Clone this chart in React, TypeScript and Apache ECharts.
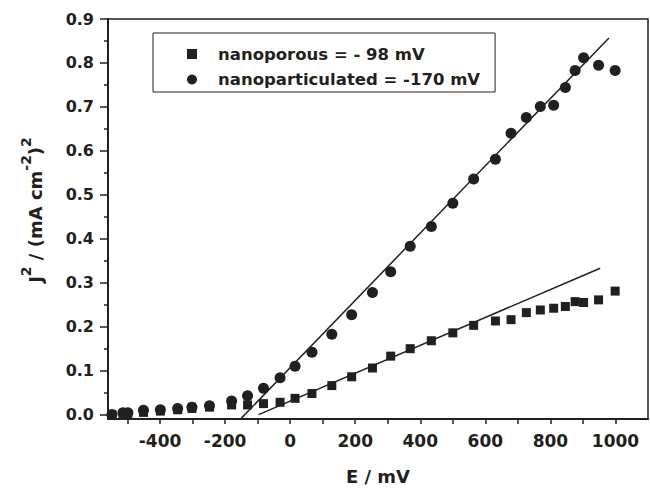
import React, { useEffect, useRef } from "react";
import * as echarts from "echarts";

const energyMv = [-548, -514, -499, -451, -399, -346, -302, -248, -180, -131, -82, -31, 15, 67, 128, 189, 253, 309, 369, 434, 500, 564, 631, 679, 726, 769, 810, 846, 876, 902, 948, 999];
const nanoporousJ2 = [0.0, 0.001, 0.001, 0.005, 0.008, 0.011, 0.014, 0.017, 0.022, 0.022, 0.025, 0.028, 0.037, 0.048, 0.066, 0.086, 0.106, 0.133, 0.15, 0.168, 0.186, 0.203, 0.213, 0.216, 0.232, 0.238, 0.242, 0.246, 0.257, 0.255, 0.261, 0.281];
const nanoparticulatedJ2 = [0.0, 0.004, 0.004, 0.01, 0.011, 0.014, 0.017, 0.02, 0.031, 0.043, 0.06, 0.084, 0.11, 0.142, 0.183, 0.227, 0.278, 0.325, 0.383, 0.428, 0.481, 0.536, 0.581, 0.64, 0.676, 0.701, 0.704, 0.744, 0.783, 0.812, 0.795, 0.783];

const porousFitE = [-97, 953];
const porousFitJ = [0.0, 0.333];
const particulatedFitE = [-150, 980];
const particulatedFitJ = [-0.008, 0.857];

const xLabelValues = [-400, -200, 0, 200, 400, 600, 800, 1000];
const xTickValues = [-500, -400, -300, -200, -100, 0, 100, 200, 300, 400, 500, 600, 700, 800, 900, 1000];
const yLabelValues = [0, 0.1, 0.2, 0.3, 0.4, 0.5, 0.6, 0.7, 0.8, 0.9];
const yMinorValues = [0.05, 0.15, 0.25, 0.35, 0.45, 0.55, 0.65, 0.75, 0.85];

const seriesNames = ["nanoporous = - 98 mV", "nanoparticulated = -170 mV"];
// y-axis title pieces: [text, isSuperscript]
const yTitleParts: [string, boolean][] = [
  ["J", false],
  ["2", true],
  [" / (mA cm", false],
  ["-2", true],
  [")", false],
  ["2", true],
];

const INK = "#231f20";
const FONT = "DejaVu Sans";
const MAIN_SIZE = 18;
const SUP_SIZE = 14;

function buildYTitle() {
  const canvas = document.createElement("canvas");
  const ctx = canvas.getContext("2d");
  const fontOf = (sup: boolean) => `bold ${sup ? SUP_SIZE : MAIN_SIZE}px "${FONT}"`;
  const widths = yTitleParts.map(([t, sup]) => {
    if (!ctx) return t.length * (sup ? SUP_SIZE : MAIN_SIZE) * 0.65;
    ctx.font = fontOf(sup);
    return ctx.measureText(t).width;
  });
  const total = widths.reduce((a, b) => a + b, 0);
  let cursor = -total / 2;
  const children = yTitleParts.map(([t, sup], i) => {
    const el = {
      type: "text",
      x: cursor,
      y: sup ? -15.5 : -5.5,
      style: {
        text: t,
        font: fontOf(sup),
        fill: INK,
        align: "left",
        verticalAlign: "middle",
      },
    };
    cursor += widths[i];
    return el;
  });
  return {
    type: "group",
    x: 41,
    y: 210,
    rotation: Math.PI / 2,
    children,
  };
}

export default function App() {
  const ref = useRef<HTMLDivElement>(null);
  useEffect(() => {
    if (!ref.current) return;
    const chart = echarts.init(ref.current, null, { renderer: "svg" });
    const pair = (xs: number[], ys: number[]) => xs.map((x, i) => [x, ys[i]]);
    chart.setOption({
      animation: false,
      backgroundColor: "#ffffff",
      textStyle: { fontFamily: FONT },
      grid: {
        left: 108,
        right: 2,
        top: 19,
        bottom: 69,
        show: true,
        borderColor: INK,
        borderWidth: 1.5,
        backgroundColor: "transparent",
      },
      graphic: [buildYTitle()],
      legend: {
        left: 153,
        top: 33,
        orient: "vertical",
        data: [
          { name: seriesNames[0], icon: "rect" },
          { name: seriesNames[1], icon: "circle" },
        ],
        itemWidth: 10,
        itemHeight: 10,
        itemGap: 8.5,
        padding: [12.5, 15, 4, 34],
        borderColor: INK,
        borderWidth: 1,
        borderRadius: 0,
        itemStyle: { opacity: 1 },
        textStyle: {
          fontFamily: FONT,
          fontWeight: "bold",
          fontSize: 16.5,
          color: INK,
          padding: [0, 0, 0, 16],
        },
      },
      xAxis: {
        type: "value",
        min: -560,
        max: 1100,
        name: "E / mV",
        nameLocation: "middle",
        nameGap: 48,
        nameTextStyle: { fontFamily: FONT, fontWeight: "bold", fontSize: 18, color: INK },
        axisLine: { show: true, onZero: false, lineStyle: { color: INK, width: 2 } },
        axisTick: { show: true, inside: false, length: 5, customValues: xTickValues, lineStyle: { color: INK, width: 1.5 } },
        axisLabel: {
          show: true,
          customValues: xLabelValues,
          margin: 13,
          fontFamily: FONT,
          fontWeight: "bold",
          fontSize: 17,
          color: INK,
          formatter: (v: number) => String(v),
        },
        splitLine: { show: false },
      },
      yAxis: [
        {
          type: "value",
          min: -0.01,
          max: 0.9,
          axisLine: { show: true, onZero: false, lineStyle: { color: INK, width: 2 } },
          axisTick: { show: true, inside: false, length: 8, customValues: yLabelValues, lineStyle: { color: INK, width: 1.5 } },
          axisLabel: {
            show: true,
            customValues: yLabelValues,
            margin: 14,
            fontFamily: FONT,
            fontWeight: "bold",
            fontSize: 16,
            color: INK,
            formatter: (v: number) => v.toFixed(1),
          },
          splitLine: { show: false },
        },
        {
          type: "value",
          min: -0.01,
          max: 0.9,
          position: "left",
          axisLine: { show: false, onZero: false },
          axisTick: { show: true, inside: false, length: 4, customValues: yMinorValues, lineStyle: { color: INK, width: 1.5 } },
          axisLabel: { show: false },
          splitLine: { show: false },
        },
      ],
      series: [
        {
          name: seriesNames[0],
          type: "scatter",
          symbol: "rect",
          symbolSize: 9,
          itemStyle: { color: INK, opacity: 1 },
          data: pair(energyMv, nanoporousJ2),
          z: 3,
        },
        {
          name: seriesNames[1],
          type: "scatter",
          symbol: "circle",
          symbolSize: 11,
          itemStyle: { color: INK, opacity: 1 },
          data: pair(energyMv, nanoparticulatedJ2),
          z: 4,
        },
        {
          name: "fit porous",
          type: "line",
          showSymbol: false,
          symbol: "none",
          lineStyle: { color: INK, width: 1.5 },
          data: pair(porousFitE, porousFitJ),
          z: 5,
        },
        {
          name: "fit particulated",
          type: "line",
          showSymbol: false,
          symbol: "none",
          lineStyle: { color: INK, width: 1.5 },
          data: pair(particulatedFitE, particulatedFitJ),
          z: 5,
        },
      ],
    });
    return () => chart.dispose();
  }, []);
  return <div ref={ref} style={{ width: 650, height: 490, position: "absolute", left: 0, top: 0 }} />;
}
